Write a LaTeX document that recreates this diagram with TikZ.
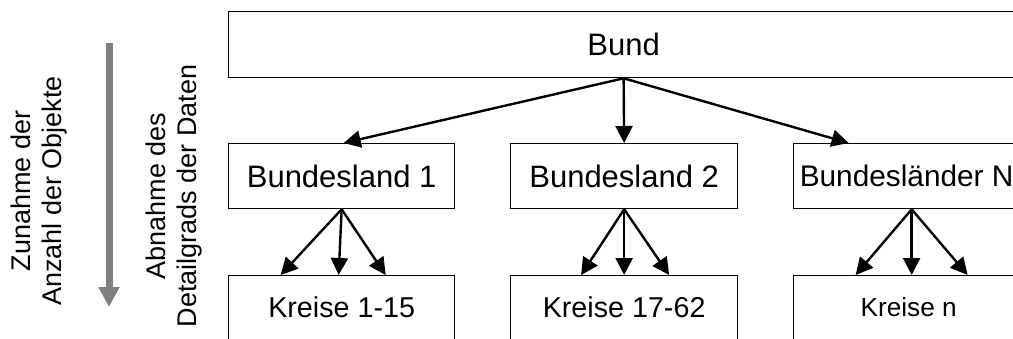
\documentclass[tikz,border=0pt]{standalone}
\usepackage{fontspec}
\setmainfont{Liberation Sans}
\usetikzlibrary{arrows.meta,calc}
\begin{document}
\begin{tikzpicture}[x=1pt,y=-1pt,
  box/.style={draw=black,line width=1.3pt,inner sep=0pt,anchor=north west},
  conn/.style={line width=2.4pt,-{Triangle[length=17pt,width=17pt]}},
  side/.style={rotate=90,align=center,inner sep=0pt,font=\fontsize{27}{31}\selectfont}]
\useasboundingbox (0,0) rectangle (1013,338);
\clip (0,0) rectangle (1013,338);
% boxes
\node[box,minimum width=790pt,minimum height=66pt] (bund) at (228,11) {};
\node[font=\fontsize{31}{36}\selectfont] at (bund.center) {Bund};
\node[box,minimum width=226pt,minimum height=65pt] (bl1) at (228,143) {};
\node[font=\fontsize{31}{36}\selectfont] at (bl1.center) {Bundesland 1};
\node[box,minimum width=227pt,minimum height=65pt] (bl2) at (510,143) {};
\node[font=\fontsize{31}{36}\selectfont] at (bl2.center) {Bundesland 2};
\node[box,minimum width=236pt,minimum height=65pt] (bn) at (793,143) {};
\node[font=\fontsize{29.8}{36}\selectfont] at ([xshift=-5pt]bn.center) {Bundesländer N};
\node[box,minimum width=226pt,minimum height=70pt] (k1) at (228,275) {};
\node[font=\fontsize{28.7}{34}\selectfont] at ([yshift=-32.5pt]k1.north) {Kreise 1-15};
\node[box,minimum width=227pt,minimum height=70pt] (k2) at (510,275) {};
\node[font=\fontsize{28.7}{34}\selectfont] at ([yshift=-32.5pt]k2.north) {Kreise 17-62};
\node[box,minimum width=236pt,minimum height=70pt] (kn) at (793,275) {};
\node[font=\fontsize{26.2}{31}\selectfont] at ([xshift=-3pt,yshift=-32.5pt]kn.north) {Kreise n};
% connectors
\draw[conn] (bund.south) -- ([xshift=2pt]bl1.north);
\draw[conn] (bund.south) -- (bl2.north);
\draw[conn] (bund.south) -- ([xshift=-63pt]bn.north);
\draw[conn] (bl1.south) -- ([xshift=-61pt]k1.north);
\draw[conn] (bl1.south) -- ([xshift=-3pt]k1.north);
\draw[conn] (bl1.south) -- ([xshift=44pt]k1.north);
\draw[conn] (bl2.south) -- ([xshift=-43pt]k2.north);
\draw[conn] (bl2.south) -- (k2.north);
\draw[conn] (bl2.south) -- ([xshift=45pt]k2.north);
\draw[conn] (bn.south) -- ([xshift=-56pt]kn.north);
\draw[conn] (bn.south) -- (kn.north);
\draw[conn] (bn.south) -- ([xshift=56pt]kn.north);
% side labels and gray arrow
\node[side] (t1) at (39,191) {Zunahme der\\Anzahl der Objekte};
\node[side] (t2) at (174,196) {Abnahme des\\Detailgrads der Daten};
\coordinate (gs) at (109,43);
\coordinate (ge) at (109,307);
\draw[line width=7pt,color={rgb,255:red,128;green,128;blue,128},-{Triangle[length=20pt,width=20pt]}] (gs) -- (ge);
\end{tikzpicture}
\end{document}
